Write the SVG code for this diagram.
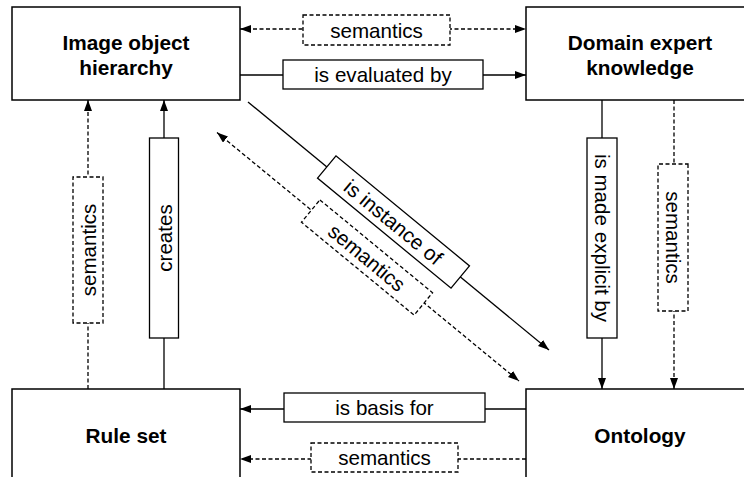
<svg xmlns="http://www.w3.org/2000/svg" width="744" height="477" viewBox="0 0 744 477">
<defs>
<style>
.node{fill:#fff;stroke:#000;stroke-width:1.5}
.lbl{fill:#fff;stroke:#000;stroke-width:1.3}
.dlbl{fill:#fff;stroke:#000;stroke-width:1.3;stroke-dasharray:4 2.5}
.ln{fill:none;stroke:#000;stroke-width:1.3}
.dln{fill:none;stroke:#000;stroke-width:1.3;stroke-dasharray:4 2.5}
.title{font-family:"Liberation Sans",Arial,sans-serif;font-weight:bold;font-size:20.8px;text-anchor:middle;fill:#000}
.t{font-family:"Liberation Sans",Arial,sans-serif;font-size:20.6px;text-anchor:middle;fill:#000}
</style>
<marker id="ah" viewBox="0 0 11 8" refX="11" refY="4" markerWidth="11" markerHeight="8" markerUnits="userSpaceOnUse" orient="auto-start-reverse">
<path d="M0,0 L11,4 L0,8 z" fill="#000"/>
</marker>
</defs>

<g id="connectors">
<!-- top -->
<line class="dln" x1="240" y1="29" x2="526" y2="29" marker-start="url(#ah)" marker-end="url(#ah)"/>
<line class="ln" x1="240" y1="75" x2="526" y2="75" marker-end="url(#ah)"/>
<!-- bottom -->
<line class="ln" x1="526" y1="409" x2="240" y2="409" marker-end="url(#ah)"/>
<line class="dln" x1="526" y1="459" x2="240" y2="459" marker-end="url(#ah)"/>
<!-- left verticals -->
<line class="dln" x1="88" y1="389" x2="88" y2="100" marker-end="url(#ah)"/>
<line class="ln" x1="164" y1="389" x2="164" y2="100" marker-end="url(#ah)"/>
<!-- right verticals -->
<line class="ln" x1="602" y1="100" x2="602" y2="389" marker-end="url(#ah)"/>
<line class="dln" x1="674" y1="100" x2="674" y2="389" marker-end="url(#ah)"/>
<!-- diagonals -->
<line class="ln" x1="248" y1="102" x2="549" y2="350" marker-end="url(#ah)"/>
<line class="dln" x1="217" y1="132.5" x2="519" y2="381" marker-start="url(#ah)" marker-end="url(#ah)"/>

<!-- labels -->
<g id="lbl-top-semantics">
<rect class="dlbl" x="303" y="15" width="147" height="30"/>
<text class="t" x="376.5" y="37.5">semantics</text>
</g>
<g id="lbl-evaluated">
<rect class="lbl" x="283" y="60" width="200" height="29"/>
<text class="t" x="383" y="82">is evaluated by</text>
</g>
<g id="lbl-basis">
<rect class="lbl" x="284" y="393" width="201" height="29"/>
<text class="t" x="384.5" y="415">is basis for</text>
</g>
<g id="lbl-bottom-semantics">
<rect class="dlbl" x="311" y="443" width="147" height="29"/>
<text class="t" x="384.5" y="465">semantics</text>
</g>
<g id="lbl-left-semantics" transform="translate(88,250) rotate(-90)">
<rect class="dlbl" x="-73" y="-15" width="146" height="30"/>
<text class="t" x="0" y="7.5">semantics</text>
</g>
<g id="lbl-creates" transform="translate(164,238) rotate(-90)">
<rect class="lbl" x="-100" y="-14.5" width="200" height="29"/>
<text class="t" x="0" y="7.5">creates</text>
</g>
<g id="lbl-explicit" transform="translate(602,238) rotate(90)">
<rect class="lbl" x="-100" y="-15" width="200" height="30"/>
<text class="t" x="0" y="7.5">is made explicit by</text>
</g>
<g id="lbl-right-semantics" transform="translate(673,237.5) rotate(90)">
<rect class="dlbl" x="-73.5" y="-15" width="147" height="30"/>
<text class="t" x="0" y="7.5">semantics</text>
</g>
<g id="lbl-instance" transform="translate(393.5,222) rotate(39.5)">
<rect class="lbl" x="-86.5" y="-14.5" width="173" height="29"/>
<text class="t" x="0" y="7.5">is instance of</text>
</g>
<g id="lbl-diag-semantics" transform="translate(367,257.5) rotate(39.5)">
<rect class="dlbl" x="-73" y="-14.5" width="146" height="29"/>
<text class="t" x="0" y="7.5">semantics</text>
</g>
</g>

<g id="node-image-object-hierarchy">
<rect class="node" x="12" y="7" width="228" height="93"/>
<text class="title" x="126" y="50">Image object</text>
<text class="title" x="126" y="75">hierarchy</text>
</g>
<g id="node-domain-expert-knowledge">
<rect class="node" x="526" y="7" width="228" height="93"/>
<text class="title" x="640" y="50">Domain expert</text>
<text class="title" x="640" y="75">knowledge</text>
</g>
<g id="node-rule-set">
<rect class="node" x="12" y="389" width="228" height="93"/>
<text class="title" x="126" y="443">Rule set</text>
</g>
<g id="node-ontology">
<rect class="node" x="526" y="389" width="228" height="93"/>
<text class="title" x="640" y="443">Ontology</text>
</g>
</svg>
